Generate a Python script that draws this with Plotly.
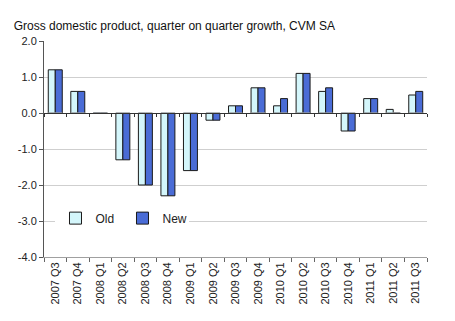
import plotly.graph_objects as go

categories = ["2007 Q3", "2007 Q4", "2008 Q1", "2008 Q2", "2008 Q3", "2008 Q4",
              "2009 Q1", "2009 Q2", "2009 Q3", "2009 Q4", "2010 Q1", "2010 Q2",
              "2010 Q3", "2010 Q4", "2011 Q1", "2011 Q2", "2011 Q3"]
old_vals = [1.2, 0.6, 0.0, -1.3, -2.0, -2.3, -1.6, -0.2, 0.2, 0.7, 0.2, 1.1,
            0.6, -0.5, 0.4, 0.1, 0.5]
new_vals = [1.2, 0.6, 0.0, -1.3, -2.0, -2.3, -1.6, -0.2, 0.2, 0.7, 0.4, 1.1,
            0.7, -0.5, 0.4, 0.0, 0.6]
y_ticks = [2.0, 1.0, 0.0, -1.0, -2.0, -3.0, -4.0]
title = "Gross domestic product, quarter on quarter growth, CVM SA"

font = "Liberation Sans, Arial, sans-serif"

fig = go.Figure()
fig.add_trace(go.Bar(x=categories, y=old_vals, name="Old",
                     marker=dict(color="#d4f6fb", line=dict(color="#1a1a1a", width=1))))
fig.add_trace(go.Bar(x=categories, y=new_vals, name="New",
                     marker=dict(color="#4a6cd6", line=dict(color="#1a1a1a", width=1))))
# invisible trace to carry categories on the zero-line axis
fig.add_trace(go.Bar(x=categories, y=[0] * len(categories), xaxis="x2",
                     showlegend=False, hoverinfo="skip", marker=dict(color="rgba(0,0,0,0)")))

fig.update_layout(
    width=455, height=321,
    margin=dict(l=44, r=28, t=41, b=64),
    paper_bgcolor="white", plot_bgcolor="white",
    font=dict(family=font, size=11, color="#222"),
    title=dict(text=title, x=0.03, xanchor="left", y=0.92, yanchor="middle",
               font=dict(family=font, size=12, color="#111")),
    barmode="group", bargap=0.38, bargroupgap=0,
    showlegend=True,
    legend=dict(orientation="h", x=0.03, y=0.18, xanchor="left", yanchor="middle",
                bgcolor="white", font=dict(family=font, size=12, color="#222"),
                entrywidth=22, entrywidthmode="pixels", itemwidth=30,
                tracegroupgap=0),
    xaxis=dict(type="category", range=[-0.5, 16.5], tickangle=-90,
               showline=True, linecolor="#a0a0a0", linewidth=1,
               ticks="outside", tickson="boundaries", ticklen=4, tickcolor="#666",
               showgrid=False, tickfont=dict(family=font, size=11, color="#222")),
    xaxis2=dict(type="category", overlaying="x", anchor="free", position=2 / 3,
                range=[-0.5, 16.5], showticklabels=False, showline=True,
                linecolor="#333", linewidth=1, ticks="outside", tickson="boundaries",
                ticklen=3, tickcolor="#333", showgrid=False, side="bottom"),
    yaxis=dict(range=[-4.0, 2.0], tickvals=y_ticks,
               ticktext=[f"{v:.1f}" for v in y_ticks],
               showline=True, linecolor="#555", linewidth=1,
               ticks="outside", ticklen=4, tickcolor="#555",
               showgrid=True, gridcolor="#cfcfcf", gridwidth=1,
               zeroline=False, tickfont=dict(family=font, size=11, color="#222")),
)

fig.write_html("out.html")
